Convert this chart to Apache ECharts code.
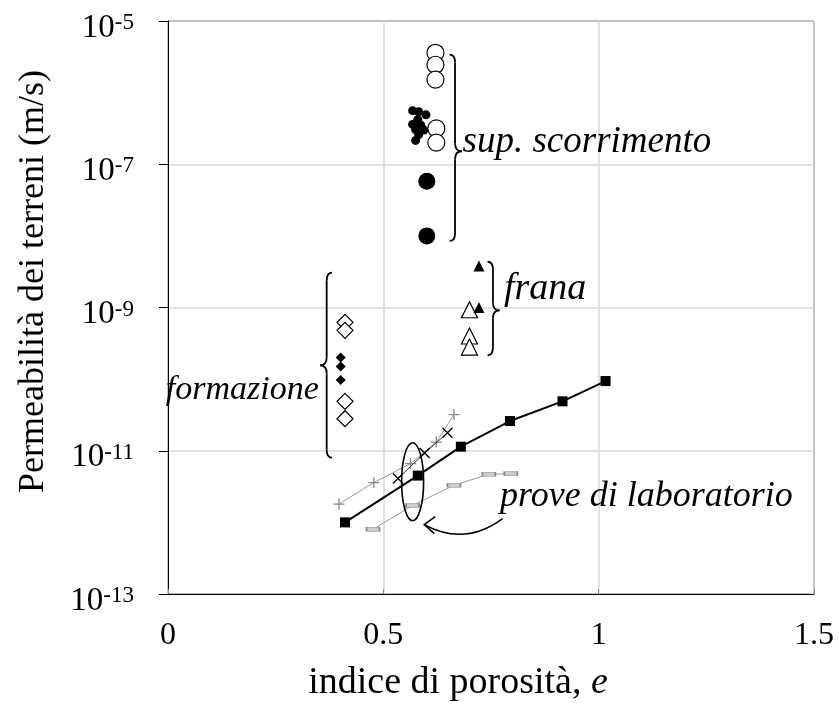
<!DOCTYPE html>
<html>
<head>
<meta charset="utf-8">
<script src="https://cdn.jsdelivr.net/npm/echarts@6/dist/echarts.min.js"></script>
<style>
  html, body { margin: 0; padding: 0; background: #fff; }
  #chart { width: 839px; height: 707px; }
</style>
</head>
<body>
<div id="chart"></div>
<script>
// Void ratio e (x) versus soil permeability k in m/s (y, log scale)

// "sup. scorrimento" (slip surface)
const slipOpen = [[0.621, 3.6e-6], [0.621, 2.45e-6], [0.621, 1.52e-6], [0.623, 3.16e-7], [0.623, 2.0e-7]];
const slipDots = [[0.568, 5.6e-7], [0.582, 5.4e-7], [0.599, 4.9e-7], [0.580, 4.2e-7], [0.568, 3.6e-7],
                  [0.587, 3.5e-7], [0.575, 3.06e-7], [0.594, 3.0e-7], [0.582, 2.6e-7], [0.575, 2.15e-7]];
const slipFilled = [[0.601, 5.8e-8], [0.601, 1.0e-8]];

// "frana" (landslide body)
const landFilled = [[0.722, 3.8e-9], [0.722, 1.0e-9]];
const landOpen = [[0.700, 9.3e-10], [0.700, 4.0e-10], [0.700, 2.8e-10]];

// "formazione" (formation)
const formOpen = [[0.411, 6.2e-10], [0.411, 4.8e-10], [0.411, 4.9e-11], [0.411, 2.8e-11]];
const formFilled = [[0.401, 2.0e-10], [0.401, 1.5e-10], [0.401, 9.7e-11]];

// "prove di laboratorio" (laboratory tests)
const labSquares = [[0.411, 1.0e-12], [0.580, 4.5e-12], [0.680, 1.14e-11], [0.794, 2.6e-11], [0.916, 4.9e-11], [1.016, 9.4e-11]];
const labPlus = [[0.397, 1.8e-12], [0.478, 3.6e-12], [0.563, 6.6e-12], [0.623, 1.32e-11], [0.664, 3.2e-11]];
const labCross = [[0.534, 4.1e-12], [0.596, 9.3e-12], [0.649, 1.78e-11]];
const labBars = [[0.476, 8.0e-13], [0.568, 1.72e-12], [0.664, 3.3e-12], [0.745, 4.7e-12], [0.796, 4.8e-12]];

// Axis settings
const xTicks = [0, 0.5, 1, 1.5];
const yMin = 1e-13, yMax = 1e-5;

const SERIF = '"Liberation Serif", "Times New Roman", serif';

const chart = echarts.init(document.getElementById('chart'), null, { renderer: 'canvas' });

function scatter(data, symbol, size, fill, stroke, lw, z) {
  return {
    type: 'scatter', data: data, symbol: symbol, symbolSize: size, z: z || 3,
    itemStyle: { color: fill, borderColor: stroke, borderWidth: lw, opacity: 1 },
    emphasis: { disabled: true }, silent: true
  };
}

function line(data, symbol, size, fill, stroke, lw, lineColor, lineWidth, z) {
  return {
    type: 'line', data: data, symbol: symbol, symbolSize: size, showSymbol: true, z: z || 3,
    lineStyle: { color: lineColor, width: lineWidth },
    itemStyle: { color: fill, borderColor: stroke, borderWidth: lw },
    emphasis: { disabled: true }, silent: true, animation: false
  };
}

const option = {
  animation: false,
  backgroundColor: '#fff',
  grid: { left: 168, right: 25, top: 21, bottom: 110, show: true, borderColor: '#000', borderWidth: 1 },
  xAxis: {
    type: 'value', min: xTicks[0], max: xTicks[xTicks.length - 1], interval: 0.5,
    axisLine: { show: true, lineStyle: { color: '#000', width: 1 } },
    axisTick: { show: true, inside: true, length: 5, lineStyle: { color: '#888' } },
    splitLine: { show: true, lineStyle: { color: '#d9d9d9', width: 1.5 } },
    axisLabel: { margin: 26, color: '#000', fontFamily: SERIF, fontSize: 32,
                 formatter: function (v) { return String(v); } },
    name: 'indice di porosità, {i|e}', nameLocation: 'middle', nameGap: 70,
    nameTextStyle: { color: '#000', fontFamily: SERIF, fontSize: 38, padding: [0, 66, 0, 0],
                     rich: { i: { fontStyle: 'italic', fontFamily: SERIF, fontSize: 38, color: '#000' } } }
  },
  yAxis: {
    type: 'log', logBase: 10, min: yMin, max: yMax, interval: 2,
    axisLine: { show: true, lineStyle: { color: '#000', width: 1 } },
    axisTick: { show: true, inside: false, length: 9, lineStyle: { color: '#000' } },
    splitLine: { show: true, lineStyle: { color: '#d9d9d9', width: 1.5 } },
    axisLabel: {
      margin: 34, color: '#000', padding: [14, 0, 0, 0],
      formatter: function (v) { return '{b|10}{s|' + Math.round(Math.log10(v)) + '}'; },
      rich: {
        b: { fontFamily: SERIF, fontSize: 33, color: '#000', lineHeight: 33 },
        s: { fontFamily: SERIF, fontSize: 23, color: '#000', lineHeight: 23, verticalAlign: 'top' }
      }
    },
    name: 'Permeabilità dei terreni (m/s)', nameLocation: 'middle', nameGap: 116,
    nameTextStyle: { color: '#000', fontFamily: SERIF, fontSize: 36, padding: [0, 0, 0, 52] }
  },
  series: [
    scatter(slipDots, 'circle', 9, '#000', '#000', 0, 3),
    scatter(slipOpen, 'circle', 17, '#fff', '#000', 1.2, 4),
    scatter(slipFilled, 'circle', 17, '#000', '#000', 0, 3),
    scatter(landOpen, 'triangle', 16, '#fff', '#000', 1.2, 3),
    scatter(landFilled, 'triangle', 11, '#000', '#000', 0, 4),
    scatter(formOpen, 'diamond', 16, '#fff', '#000', 1.2, 3),
    scatter(formFilled, 'diamond', 10, '#000', '#000', 0, 3),
    line(labBars, 'rect', [13, 4], '#ccc', '#888', 1, '#999', 1, 3),
    line(labPlus, 'path://M0,5L10,5M5,0L5,10', 11, 'none', '#888', 1.3, '#999', 1, 3),
    line(labCross, 'path://M0,0L10,10M10,0L0,10', 10, 'none', '#000', 1.3, '#333', 1, 4),
    line(labSquares, 'rect', 10, '#000', '#000', 0, '#000', 2, 5)
  ]
};

chart.setOption(option);

// Annotations: braces, group labels, ellipse and arrow, placed from data coordinates
function px(e, k) { return chart.convertToPixel({ gridIndex: 0 }, [e, k]); }

function brace(top, mid, bottom, width, dir) {
  // top/mid/bottom: [e, k] anchors; dir = 1 for "}" and -1 for "{"
  const a = px(top[0], top[1]), m = px(mid[0], mid[1]), b = px(bottom[0], bottom[1]);
  const x0 = a[0], y0 = a[1], ym = m[1], y1 = b[1];
  const xm = x0 + dir * width * 0.45, xt = x0 + dir * width;
  const r = 8;
  const st = { stroke: '#000', lineWidth: 1.8, fill: null };
  return [
    { type: 'bezierCurve', shape: { x1: x0, y1: y0, cpx1: xm, cpy1: y0, x2: xm, y2: y0 + r }, style: st },
    { type: 'line', shape: { x1: xm, y1: y0 + r, x2: xm, y2: ym - r }, style: st },
    { type: 'bezierCurve', shape: { x1: xm, y1: ym - r, cpx1: xm, cpy1: ym, x2: xt, y2: ym }, style: st },
    { type: 'bezierCurve', shape: { x1: xt, y1: ym, cpx1: xm, cpy1: ym, x2: xm, y2: ym + r }, style: st },
    { type: 'line', shape: { x1: xm, y1: ym + r, x2: xm, y2: y1 - r }, style: st },
    { type: 'bezierCurve', shape: { x1: xm, y1: y1 - r, cpx1: xm, cpy1: y1, x2: x0, y2: y1 }, style: st }
  ];
}

function label(text, at, align, size) {
  const p = px(at[0], at[1]);
  return {
    type: 'text', x: p[0], y: p[1], z: 10,
    style: { text: text, font: 'italic ' + size + 'px ' + SERIF, fill: '#000',
             align: align, verticalAlign: 'middle', textAlign: align, textVerticalAlign: 'middle' }
  };
}

const graphics = [];
graphics.push(...brace([0.654, 3.4e-6], [0.654, 1.52e-7], [0.654, 8.5e-9], 12, 1));
graphics.push(...brace([0.742, 4.35e-9], [0.742, 9.1e-10], [0.742, 2.15e-10], 12, 1));
graphics.push(...brace([0.381, 3.06e-9], [0.381, 1.56e-10], [0.381, 8.0e-12], 12, -1));

graphics.push(label('sup. scorrimento', [0.684, 2.0e-7], 'left', 37));
graphics.push(label('frana', [0.78, 1.8e-9], 'left', 38));
graphics.push(label('formazione', [0.35, 7.0e-11], 'right', 34));
graphics.push(label('prove di laboratorio', [0.771, 2.3e-12], 'left', 36));

// Ellipse around the e ≈ 0.57 lab points
const ec = px(0.568, 3.7e-12);
graphics.push({ type: 'ellipse', shape: { cx: ec[0], cy: ec[1], rx: 11, ry: 39 },
                style: { stroke: '#000', lineWidth: 1.6, fill: null }, z: 9 });

// Curved arrow from the lab label to the ellipse
const as = px(0.777, 1.13e-12), ae = px(0.595, 9.3e-13);
graphics.push({ type: 'bezierCurve',
                shape: { x1: as[0], y1: as[1], cpx1: as[0] - 38, cpy1: as[1] + 28, x2: ae[0], y2: ae[1] },
                style: { stroke: '#000', lineWidth: 1.6, fill: null }, z: 9 });
graphics.push({ type: 'polyline',
                shape: { points: [[ae[0] + 11, ae[1] - 8], [ae[0], ae[1]], [ae[0] + 10, ae[1] + 9]] },
                style: { stroke: '#000', lineWidth: 1.6, fill: null }, z: 9 });

chart.setOption({ graphic: { elements: graphics } });
</script>
</body>
</html>
